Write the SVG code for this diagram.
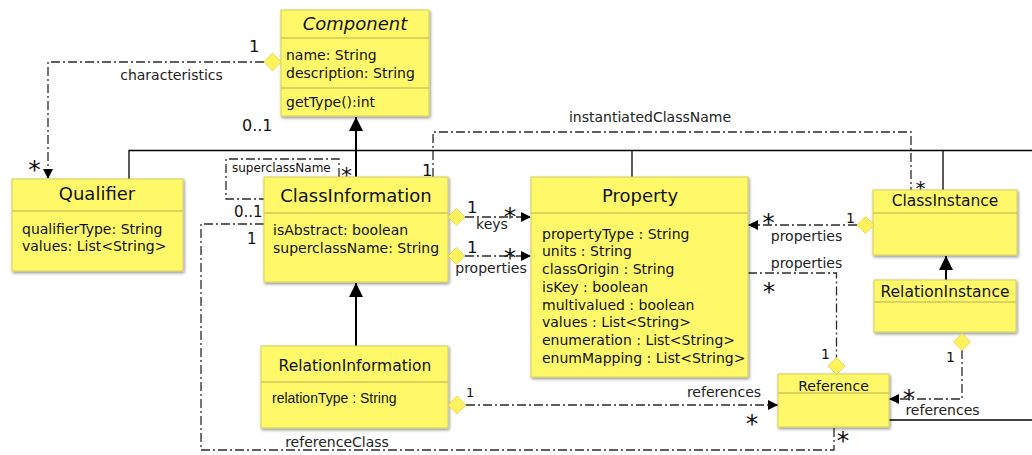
<svg xmlns="http://www.w3.org/2000/svg" width="1032" height="455" viewBox="0 0 1032 455">
  <defs>
    <filter id="shadow" x="-10%" y="-10%" width="125%" height="125%">
      <feDropShadow dx="1" dy="1.5" stdDeviation="1.6" flood-color="#000" flood-opacity="0.45"/>
    </filter>
    <marker id="arrow" markerUnits="userSpaceOnUse" viewBox="0 0 10 10" refX="10" refY="5" markerWidth="10" markerHeight="10" orient="auto">
      <path d="M0,0 L10,5 L0,10 z" fill="#000"/>
    </marker>
    <marker id="gen" markerUnits="userSpaceOnUse" viewBox="0 0 15 14" refX="14" refY="7" markerWidth="15" markerHeight="14" orient="auto">
      <path d="M0,0 L14,7 L0,14 z" fill="#000"/>
    </marker>
  </defs>
  <style>
    .box { fill: #fff96b; stroke: #d6cf5a; stroke-width: 1; filter: url(#shadow); }
    .div { stroke: #cfc658; stroke-width: 1.5; }
    .dia { fill: #fff25c; stroke: #e2d24a; stroke-width: 0.8; }
    .t { font-family: "DejaVu Sans", sans-serif; fill: #111; }
    .title { font-size: 18px; text-anchor: middle; }
    .title2 { font-size: 15.5px; text-anchor: middle; }
    .attr { font-size: 14px; }
    .lbl { font-size: 14px; fill: #222; }
    .mid { text-anchor: middle; }
    .mult { font-size: 16.5px; }
    .star { font-size: 25px; text-anchor: middle; }
    .assoc { fill: none; stroke: #2a2a2a; stroke-width: 1.3; stroke-dasharray: 9 3 2 3; }
    .solid { fill: none; stroke: #000; stroke-width: 1.3; }
    .inh { fill: none; stroke: #000; stroke-width: 2; }
  </style>

  <!-- connectors -->
  <g id="connectors">
    <!-- shared instance tree line -->
    <path class="solid" d="M129,179 V150.5 H1032"/>
    <path class="solid" d="M632,150.5 V177"/>
    <path class="solid" d="M943,150.5 V190"/>
    <path class="solid" d="M889,420 H1032"/>

    <!-- generalizations -->
    <path class="inh" d="M356,177 V117" marker-end="url(#gen)"/>
    <path class="inh" d="M356,346 V283" marker-end="url(#gen)"/>
    <path class="inh" d="M946,280 V256" marker-end="url(#gen)"/>

    <!-- characteristics -->
    <path class="assoc" d="M264,62 H48 V179" marker-end="url(#arrow)"/>

    <!-- superclassName self loop -->
    <path class="assoc" d="M339,177 V159 H226 V199 H264"/>

    <!-- instantiatedClassName -->
    <path class="assoc" d="M433,177 V132 H911 V190"/>

    <!-- keys / properties -->
    <path class="assoc" d="M465,217 H531" marker-end="url(#arrow)"/>
    <path class="assoc" d="M465,256 H531" marker-end="url(#arrow)"/>

    <!-- ClassInstance properties -->
    <path class="assoc" d="M857,225 H748" marker-end="url(#arrow)"/>

    <!-- Reference properties -->
    <path class="assoc" d="M748,273 H836.5 V358"/>

    <!-- RelationInstance references -->
    <path class="assoc" d="M962,350 V399 H889" marker-end="url(#arrow)"/>

    <!-- RelationInformation references -->
    <path class="assoc" d="M466,405 H778" marker-end="url(#arrow)"/>

    <!-- referenceClass -->
    <path class="assoc" d="M264,224 H201 V450 H834 V427"/>

    <!-- connector labels -->
    <text class="t mult" x="249" y="52">1</text>
    <text class="t lbl mid" x="171.5" y="80">characteristics</text>
    <text class="t star" x="34.5" y="177.5">*</text>
    <text class="t mult" x="242" y="131" style="font-size:16px">0..1</text>

    <text class="t" x="232" y="172" style="font-size:12px">superclassName</text>
    <text class="t star" x="346.5" y="182.5" style="font-size:22px">*</text>
    <text class="t mult" x="234" y="217" style="font-size:15px">0..1</text>
    <text class="t mult" x="247" y="244" style="font-size:15px">1</text>

    <text class="t lbl mid" x="650" y="122">instantiatedClassName</text>
    <text class="t mult" x="422" y="176">1</text>
    <text class="t star" x="920.5" y="194.5" style="font-size:20px">*</text>

    <text class="t mult" x="467" y="213">1</text>
    <text class="t star" x="510" y="224.5">*</text>
    <text class="t lbl mid" x="492" y="229">keys</text>
    <text class="t mult" x="467" y="253">1</text>
    <text class="t star" x="510" y="266">*</text>
    <text class="t lbl mid" x="491" y="273">properties</text>

    <text class="t star" x="768.5" y="230.5">*</text>
    <text class="t" x="846" y="223" style="font-size:14px">1</text>
    <text class="t lbl mid" x="806.5" y="241">properties</text>

    <text class="t lbl mid" x="806.5" y="268">properties</text>
    <text class="t star" x="769" y="299.5">*</text>
    <text class="t" x="821" y="359" style="font-size:14px">1</text>

    <text class="t" x="946" y="362" style="font-size:14px">1</text>
    <text class="t star" x="909" y="406.5">*</text>
    <text class="t lbl mid" x="942.5" y="415">references</text>

    <text class="t" x="466" y="397" style="font-size:13px">1</text>
    <text class="t lbl mid" x="724" y="397">references</text>
    <text class="t star" x="752" y="431.5">*</text>

    <text class="t lbl mid" x="337" y="447">referenceClass</text>
    <text class="t star" x="843" y="449">*</text>
  </g>

  <!-- classes -->
  <g id="Component">
    <rect class="box" x="281" y="10" width="148" height="106"/>
    <line class="div" x1="281" y1="38" x2="429" y2="38"/>
    <line class="div" x1="281" y1="88" x2="429" y2="88"/>
    <text class="t title" x="355" y="30" font-style="italic">Component</text>
    <text class="t attr" x="286" y="60">name: String</text>
    <text class="t attr" x="286" y="78">description: String</text>
    <text class="t attr" x="286" y="107">getType():int</text>
  </g>

  <g id="Qualifier">
    <rect class="box" x="12" y="179" width="171" height="92"/>
    <line class="div" x1="12" y1="211" x2="183" y2="211"/>
    <text class="t title" x="97" y="200">Qualifier</text>
    <text class="t attr" x="22" y="234">qualifierType: String</text>
    <text class="t attr" x="22" y="251">values: List&lt;String&gt;</text>
  </g>

  <g id="ClassInformation">
    <rect class="box" x="264" y="177" width="184" height="105"/>
    <line class="div" x1="264" y1="213" x2="448" y2="213"/>
    <text class="t title" x="356" y="202">ClassInformation</text>
    <text class="t attr" x="273" y="235">isAbstract: boolean</text>
    <text class="t attr" x="273" y="253">superclassName: String</text>
  </g>

  <g id="Property">
    <rect class="box" x="531" y="177" width="217" height="200"/>
    <line class="div" x1="531" y1="213" x2="748" y2="213"/>
    <text class="t title" x="640" y="202">Property</text>
    <text class="t attr" x="542" y="238.5">propertyType : String</text>
    <text class="t attr" x="542" y="256.3">units : String</text>
    <text class="t attr" x="542" y="274">classOrigin : String</text>
    <text class="t attr" x="542" y="291.8">isKey : boolean</text>
    <text class="t attr" x="542" y="309.5">multivalued : boolean</text>
    <text class="t attr" x="542" y="327.3">values : List&lt;String&gt;</text>
    <text class="t attr" x="542" y="345">enumeration : List&lt;String&gt;</text>
    <text class="t attr" x="542" y="362.8">enumMapping : List&lt;String&gt;</text>
  </g>

  <g id="ClassInstance">
    <rect class="box" x="873" y="190" width="144" height="65"/>
    <line class="div" x1="873" y1="213" x2="1017" y2="213"/>
    <text class="t title2" x="945" y="206">ClassInstance</text>
  </g>

  <g id="RelationInstance">
    <rect class="box" x="874" y="280" width="142" height="52"/>
    <line class="div" x1="874" y1="302" x2="1016" y2="302"/>
    <text class="t title2" x="945" y="297">RelationInstance</text>
  </g>

  <g id="Reference">
    <rect class="box" x="778" y="374" width="111" height="53"/>
    <line class="div" x1="778" y1="393" x2="889" y2="393"/>
    <text class="t mid" x="833.5" y="391" style="font-size:14px">Reference</text>
  </g>

  <g id="RelationInformation">
    <rect class="box" x="261" y="346" width="187" height="82"/>
    <line class="div" x1="261" y1="382" x2="448" y2="382"/>
    <text class="t title2" x="355" y="371">RelationInformation</text>
    <text x="272" y="403" style="font-family:'Liberation Sans', Arial, sans-serif; font-size:14px; fill:#111">relationType : String</text>
  </g>

  <!-- aggregation diamonds, drawn over the box edges -->
  <g id="ends">
    <polygon class="dia" points="264,62 272.5,53 281,62 272.5,71"/>
    <polygon class="dia" points="448,217 456.5,208.5 465,217 456.5,225.5"/>
    <polygon class="dia" points="448,256 456.5,247.5 465,256 456.5,264.5"/>
    <polygon class="dia" points="857,225 865.5,216.5 874,225 865.5,233.5"/>
    <polygon class="dia" points="828,366 836.5,357.5 845,366 836.5,374.5"/>
    <polygon class="dia" points="953.5,342 962,333.5 970.5,342 962,350.5"/>
    <polygon class="dia" points="448,405 457,396 466,405 457,414"/>
  </g>
</svg>
